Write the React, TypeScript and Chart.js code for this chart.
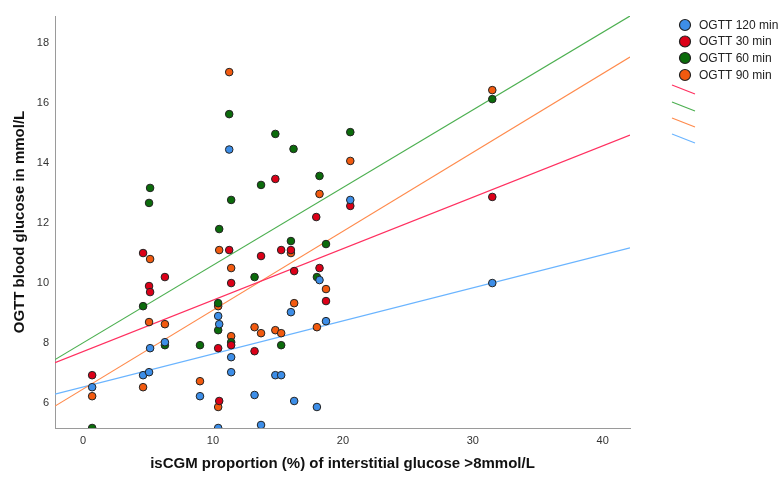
import React, { useEffect, useRef } from "react";
import { Chart, registerables } from "chart.js";

Chart.register(...registerables);

const seriesNames = ["OGTT 120 min", "OGTT 30 min", "OGTT 60 min", "OGTT 90 min"];

const blueX = [0.7, 4.62, 5.08, 5.16, 6.3, 9.0, 10.4, 10.48, 10.4, 11.25, 11.4, 11.4, 13.2, 13.7, 14.8, 15.25, 16.0, 16.25, 18.0, 18.2, 18.7, 20.57, 31.5];
const blueY = [6.53, 6.93, 7.03, 7.83, 8.03, 6.23, 8.9, 8.63, 5.17, 14.45, 7.53, 7.03, 6.27, 5.27, 6.93, 6.93, 9.03, 6.07, 5.87, 10.1, 8.73, 12.77, 10.0];

const redX = [0.7, 4.62, 5.08, 5.16, 6.3, 10.4, 10.48, 11.25, 11.4, 11.4, 13.2, 13.7, 14.8, 15.25, 16.0, 16.25, 17.95, 18.2, 18.7, 20.57, 31.5];
const redY = [6.93, 11.0, 9.9, 9.7, 10.2, 7.83, 6.07, 11.1, 10.0, 7.93, 7.73, 10.9, 13.47, 11.1, 11.1, 10.4, 12.2, 10.5, 9.4, 12.57, 12.87];

const greenX = [0.7, 4.62, 5.08, 5.16, 6.3, 9.0, 10.4, 10.4, 10.48, 11.25, 11.4, 11.4, 13.2, 13.7, 14.8, 15.25, 16.0, 16.2, 18.0, 18.2, 18.7, 20.57, 31.5];
const greenY = [5.17, 9.23, 12.67, 13.17, 7.93, 7.93, 9.33, 8.43, 11.8, 15.63, 12.77, 8.03, 10.2, 13.27, 14.97, 7.93, 11.4, 14.47, 10.2, 13.57, 11.3, 15.03, 16.13];

const orangeX = [0.7, 4.62, 5.08, 5.16, 6.3, 9.0, 10.4, 10.4, 10.48, 11.25, 11.4, 11.4, 13.2, 13.7, 14.8, 15.25, 16.0, 16.25, 18.0, 18.2, 18.7, 20.57, 31.5];
const orangeY = [6.23, 6.53, 8.7, 10.8, 8.63, 6.73, 9.23, 5.87, 11.1, 17.03, 10.5, 8.23, 8.53, 8.33, 8.43, 8.33, 11.0, 9.33, 8.53, 12.97, 9.8, 14.07, 16.43];

// fit lines: y at x-axis min and x-axis max
const lineX = [-2.16, 42.1];
const fitBlue = [6.3, 11.17];
const fitRed = [7.35, 14.93];
const fitGreen = [7.45, 18.9];
const fitOrange = [5.9, 17.53];

const xTicks = [0, 10, 20, 30, 40];
const yTicks = [6, 8, 10, 12, 14, 16, 18];

const pointColors = ["#3d8ee8", "#dc0018", "#0b6b0b", "#f25a0f"];
const lineColors = ["#ff3060", "#4caf50", "#ff8a4c", "#6ab4ff"];
const FONT = "Arial, 'Liberation Sans', sans-serif";

function pts(xs: number[], ys: number[]) {
  return xs.map((x, i) => ({ x, y: ys[i] }));
}

export default function App() {
  const ref = useRef<HTMLCanvasElement | null>(null);
  useEffect(() => {
    document.body.style.margin = "0";
    const canvas = ref.current;
    if (!canvas) return;

    const scatterSets = [
      [blueX, blueY],
      [redX, redY],
      [greenX, greenY],
      [orangeX, orangeY],
    ].map(([xs, ys], i) => ({
      type: "scatter" as const,
      label: seriesNames[i],
      data: pts(xs, ys),
      backgroundColor: pointColors[i],
      borderColor: "#222",
      borderWidth: 1,
      pointRadius: 3.8,
      clip: 0,
    }));

    const fits = [fitRed, fitGreen, fitOrange, fitBlue];
    const lineSets = fits.map((f, i) => ({
      type: "line" as const,
      label: "fit" + i,
      data: pts(lineX, f),
      borderColor: lineColors[i],
      borderWidth: 1.2,
      pointRadius: 0,
      showLine: true,
      fill: false,
    }));

    const legendPlugin = {
      id: "customLegend",
      afterDraw(chart: any) {
        const ctx = chart.ctx;
        ctx.save();
        const ys = [25, 41.5, 58, 75];
        ys.forEach((y, i) => {
          ctx.beginPath();
          ctx.arc(685, y, 5.5, 0, Math.PI * 2);
          ctx.fillStyle = pointColors[i];
          ctx.fill();
          ctx.lineWidth = 1.2;
          ctx.strokeStyle = "#222";
          ctx.stroke();
          ctx.fillStyle = "#222";
          ctx.font = "12px " + FONT;
          ctx.textBaseline = "middle";
          ctx.textAlign = "left";
          ctx.fillText(seriesNames[i], 699, y + 0.5);
        });
        const ly = [85, 102, 118, 134];
        ly.forEach((y, i) => {
          ctx.beginPath();
          ctx.moveTo(672, y);
          ctx.lineTo(695, y + 9);
          ctx.strokeStyle = lineColors[i];
          ctx.lineWidth = 1.2;
          ctx.stroke();
        });
        ctx.restore();
      },
    };

    const chart = new Chart(canvas, {
      type: "scatter",
      data: { datasets: [...scatterSets, ...lineSets] as any },
      options: {
        animation: false,
        responsive: false,
        maintainAspectRatio: false,
        layout: { padding: { top: 16, right: 151, left: 0, bottom: 0 } },
        plugins: { legend: { display: false }, tooltip: { enabled: false } },
        scales: {
          x: {
            type: "linear",
            min: -2.16,
            max: 42.1,
            afterBuildTicks: (axis: any) => {
              axis.ticks = xTicks.map((v) => ({ value: v }));
            },
            afterFit: (s: any) => {
              s.height = 50;
            },
            grid: { display: false, drawTicks: false },
            border: { display: true, color: "#9a9a9a", width: 1 },
            ticks: { padding: 6, color: "#333", font: { size: 11, family: FONT } },
            title: {
              display: true,
              text: "isCGM proportion (%) of interstitial glucose >8mmol/L",
              color: "#111",
              font: { size: 15, weight: "bold", family: FONT },
              padding: { top: 0, bottom: 5 },
            },
          },
          y: {
            type: "linear",
            min: 5.17,
            max: 18.9,
            afterBuildTicks: (axis: any) => {
              axis.ticks = yTicks.map((v) => ({ value: v }));
            },
            afterFit: (s: any) => {
              s.width = 55;
            },
            grid: { display: false, drawTicks: false },
            border: { display: true, color: "#9a9a9a", width: 1 },
            ticks: { padding: 6, color: "#333", font: { size: 11, family: FONT } },
            title: {
              display: true,
              text: "OGTT blood glucose in mmol/L",
              color: "#111",
              font: { size: 15, weight: "bold", family: FONT },
              padding: { top: 11, bottom: 0 },
            },
          },
        },
      },
      plugins: [legendPlugin],
    } as any);
    return () => chart.destroy();
  }, []);

  return (
    <div style={{ position: "absolute", left: 0, top: 0, width: 781, height: 478, background: "#fff" }}>
      <canvas ref={ref} width={781} height={478} style={{ width: 781, height: 478, display: "block" }} />
    </div>
  );
}
